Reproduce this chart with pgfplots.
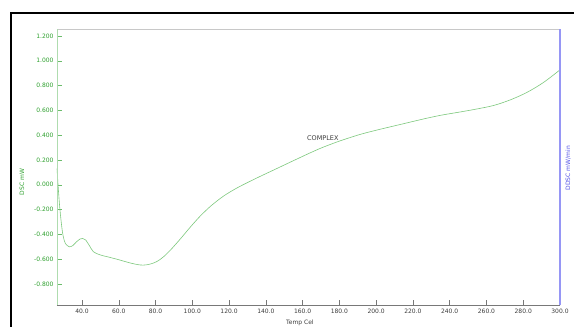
\documentclass[border=0pt]{standalone}
\usepackage{pgfplots}
\pgfplotsset{compat=1.18}
\usepackage{fontspec}
\setmainfont{DejaVu Sans}
\definecolor{curve}{RGB}{125,200,125}
\definecolor{tickgreen}{RGB}{45,160,45}
\definecolor{axgreen}{RGB}{175,220,175}
\definecolor{axblue}{RGB}{150,150,245}
\definecolor{labblue}{RGB}{80,80,230}
\definecolor{axgray}{RGB}{120,120,120}
\definecolor{topgray}{RGB}{200,200,200}
\definecolor{txt}{RGB}{60,60,60}
\begin{document}
\begin{tikzpicture}
\begin{axis}[
  width=503pt, height=276pt, scale only axis,
  xmin=26.4, xmax=300, ymin=-0.972, ymax=1.254,
  xtick={40,60,...,300},
  ytick={-0.8,-0.6,...,1.21},
  xtick pos=bottom, ytick pos=left,
  tick align=inside,
  major tick length=5pt,
  /pgf/number format/assume math mode=true,
  xticklabel style={font=\fontsize{6}{7}\selectfont, text=txt, /pgf/number format/.cd, fixed, fixed zerofill, precision=1},
  yticklabel style={font=\fontsize{6}{7}\selectfont, text=tickgreen, /pgf/number format/.cd, fixed, fixed zerofill, precision=3},
  scaled ticks=false,
  x tick style={axgray, thin},
  y tick style={tickgreen!70, thin},
  axis line style={draw=none},
  clip=false,
  xlabel={Temp Cel},
  ylabel={DSC mW},
  every axis x label/.style={at={(axis description cs:0.483,-0.064)}, anchor=center, font=\fontsize{6}{7}\selectfont, text=txt},
  every axis y label/.style={at={(axis description cs:-0.0696,0.447)}, rotate=90, anchor=center, font=\fontsize{6}{7}\selectfont, text=tickgreen},
]
\addplot[curve, line width=0.6pt, smooth, tension=0.5] coordinates {
(26.4,0.13) (27.2,-0.05) (28,-0.2) (29,-0.34) (29.8,-0.417) (31,-0.475) (33.1,-0.50) (35,-0.49)
(37,-0.46) (39,-0.437) (40.4,-0.433) (42,-0.445) (44,-0.49) (46.2,-0.54) (49.8,-0.565)
(55,-0.585) (58.9,-0.60) (62,-0.613) (66.1,-0.63) (70,-0.643) (73.3,-0.648) (77,-0.64)
(80.6,-0.62) (84,-0.585) (87.9,-0.53) (93.3,-0.44) (98.7,-0.345) (104.2,-0.254) (110,-0.172)
(116.9,-0.092) (124,-0.028) (131.4,0.028) (137.5,0.072) (144.1,0.118) (150.5,0.163) (156.8,0.207)
(163,0.25) (169.5,0.293) (175,0.325) (180.7,0.356) (191,0.405) (200,0.44) (213,0.486)
(227,0.535) (236,0.563) (246,0.588) (255,0.612) (264,0.64) (273,0.685) (282,0.745) (291,0.825) (300,0.927)
};
\node[font=\fontsize{6.5}{7}\selectfont, text=txt] at (axis cs:171,0.377) {COMPLEX};
\draw[topgray, line width=0.8pt] (rel axis cs:0,1) -- (rel axis cs:1,1);
\draw[axgreen, line width=0.8pt] (rel axis cs:0,0) -- (rel axis cs:0,1);
\draw[axgray, line width=0.7pt] (rel axis cs:0,0) -- (rel axis cs:1,0);
\draw[axblue, line width=1.5pt] (rel axis cs:1,0) -- (rel axis cs:1,1);
\node[rotate=90, font=\fontsize{6}{7}\selectfont, text=labblue] at (axis description cs:1.016,0.497) {DDSC mW/min};
\end{axis}
\draw[black, line width=2pt] (-46pt,-40pt) -- (-46pt,292pt) -- (560pt,292pt);
\pgfresetboundingbox
\path[use as bounding box] (-57pt,-21.7pt) rectangle (517pt,305.3pt);
\end{tikzpicture}
\end{document}
